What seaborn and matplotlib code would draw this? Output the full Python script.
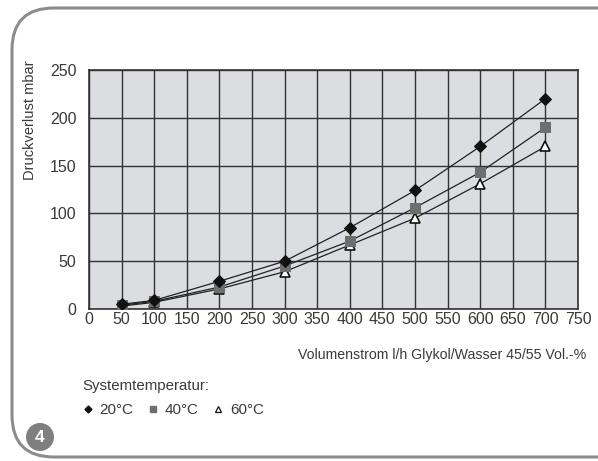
import matplotlib
matplotlib.use("Agg")
import matplotlib.pyplot as plt
from matplotlib.lines import Line2D
from matplotlib.patches import FancyBboxPatch, Ellipse
import seaborn as sns
import pandas as pd

# ---- data ----
flow = [50, 100, 200, 300, 400, 500, 600, 700]
dp_20 = [5, 9, 29, 50, 85, 124, 170, 220]
dp_40 = [4, 8, 23, 45, 71, 106, 143, 190]
dp_60 = [3, 7, 21, 39, 67, 95, 131, 170]
series_labels = ["20°C", "40°C", "60°C"]
x_ticks = list(range(0, 751, 50))
y_ticks = [0, 50, 100, 150, 200, 250]

sns.set_style("white")
plt.rcParams["font.family"] = ["Liberation Sans", "DejaVu Sans"]

txt = "#3a3a3a"
fig = plt.figure(figsize=(5.98, 4.61), dpi=100)

# rounded frame
frame = FancyBboxPatch((12 / 598, 4 / 461), 640 / 598, 449 / 461,
                       boxstyle="round,pad=0,rounding_size=0.07",
                       transform=fig.transFigure, fill=False,
                       edgecolor="#8c8c8c", linewidth=2.2, mutation_aspect=598 / 461)
fig.patches.append(frame)

ax = fig.add_axes([89 / 598, 1 - 309 / 461, (578 - 89) / 598, (309 - 70) / 461])
ax.set_facecolor("#dcdde0")

df = pd.DataFrame({
    "flow": flow * 3,
    "dp": dp_20 + dp_40 + dp_60,
    "temp": [series_labels[0]] * 8 + [series_labels[1]] * 8 + [series_labels[2]] * 8,
})

styles = {
    series_labels[0]: dict(marker="D", markersize=6, markerfacecolor="#111111", markeredgecolor="#111111"),
    series_labels[1]: dict(marker="s", markersize=7, markerfacecolor="#6e6e6e", markeredgecolor="#6e6e6e"),
    series_labels[2]: dict(marker="^", markersize=7, markerfacecolor="white", markeredgecolor="#111111", markeredgewidth=1.2),
}
for lab in series_labels[::-1]:
    sub = df[df["temp"] == lab]
    sns.lineplot(data=sub, x="flow", y="dp", ax=ax, color="#222222", linewidth=0.9,
                 legend=False, zorder=3, **styles[lab])

ax.set_xlim(0, 750)
ax.set_ylim(0, 250)
ax.set_xticks(x_ticks)
ax.set_yticks(y_ticks)
ax.grid(True, color="#333333", linewidth=1.0)
ax.set_axisbelow(True)
for s in ax.spines.values():
    s.set_color("#333333")
    s.set_linewidth(1.2)
ax.tick_params(axis="both", labelsize=11.5, colors=txt, length=4, width=1, pad=5)
ax.tick_params(axis="x", length=0, pad=2)
ax.set_xlabel("")
ax.set_ylabel("")

fig.text(586 / 598, 1 - 355 / 461, "Volumenstrom l/h Glykol/Wasser 45/55 Vol.-%",
         ha="right", va="center", fontsize=10.2, color=txt)
fig.text(30 / 598, 1 - 120 / 461, "Druckverlust mbar", rotation=90,
         ha="center", va="center", fontsize=10.5, color=txt)

fig.text(82 / 598, 1 - 386 / 461, "Systemtemperatur:", ha="left", va="center",
         fontsize=10.8, color=txt)
handles = [
    Line2D([], [], linestyle="none", marker="D", markersize=3.5, color="#111111"),
    Line2D([], [], linestyle="none", marker="s", markersize=4, color="#6e6e6e"),
    Line2D([], [], linestyle="none", marker="^", markersize=4.5, markerfacecolor="white",
           markeredgecolor="#111111", markeredgewidth=0.9),
]
leg = fig.legend(handles, series_labels, loc="center left",
                 bbox_to_anchor=(77 / 598, 1 - 410 / 461), ncol=3, frameon=False,
                 handlelength=0.6, handletextpad=0.45, columnspacing=1.0,
                 fontsize=11, borderaxespad=0)
for t in leg.get_texts():
    t.set_color(txt)

fig.patches.append(Ellipse((40 / 598, 1 - 437 / 461), 28 / 598, 28 / 461,
                           transform=fig.transFigure, facecolor="#7f7f7f", edgecolor="none"))
fig.text(40 / 598, 1 - 437 / 461, "4", ha="center", va="center", fontsize=12.5,
         color="white", fontweight="bold")

fig.savefig("out.png", dpi=100)
